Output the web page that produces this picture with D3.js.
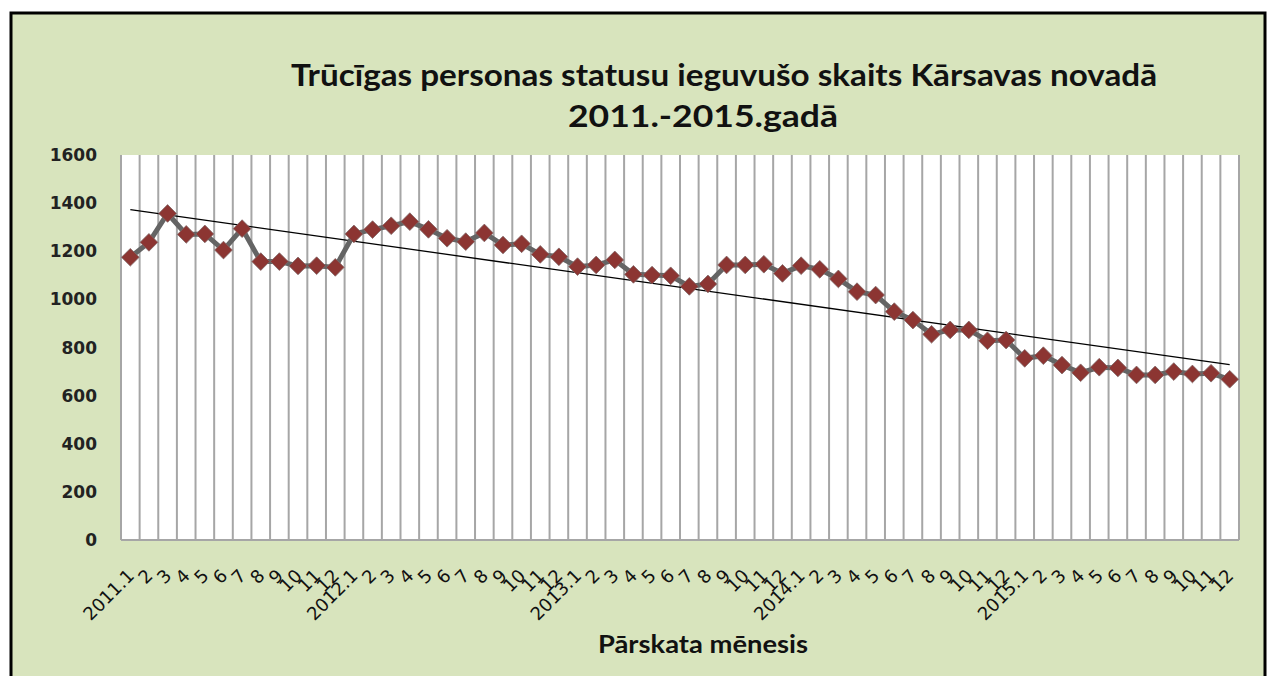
<!DOCTYPE html>
<html>
<head>
<meta charset="utf-8">
<script src="https://cdn.jsdelivr.net/npm/d3@7"></script>
<style>
  body { margin: 0; background: #fff; }
  svg { display: block; }
</style>
</head>
<body>
<div id="chart"></div>
<script>
// months of 2011-2015, the first month of a year carries the year
const years = [2011, 2012, 2013, 2014, 2015]
const monthLabels = ['1','2','3','4','5','6','7','8','9','10','11','12']

// number of people who got the status, month by month
const values2011 = [1175, 1237, 1357, 1270, 1272, 1205, 1294, 1157, 1157, 1139, 1140, 1133]
const values2012 = [1272, 1290, 1306, 1323, 1291, 1254, 1240, 1276, 1226, 1231, 1187, 1177]
const values2013 = [1136, 1143, 1164, 1104, 1101, 1098, 1054, 1064, 1143, 1143, 1146, 1108]
const values2014 = [1140, 1125, 1085, 1032, 1018, 949, 914, 855, 873, 873, 828, 831]
const values2015 = [755, 766, 727, 695, 718, 715, 686, 686, 700, 690, 693, 668]

const yTicks = [0, 200, 400, 600, 800, 1000, 1200, 1400, 1600]

const titleLines = ['Trūcīgas personas statusu ieguvušo skaits Kārsavas novadā', '2011.-2015.gadā']
const xTitle = 'Pārskata mēnesis'

window.onload = function() {
  const w = 1271, h = 676

  let data = []
  const allValues = [values2011, values2012, values2013, values2014, values2015]
  years.forEach(function(year, yi) {
    monthLabels.forEach(function(m, mi) {
      data.push({
        key: year + '.' + m,
        label: mi === 0 ? year + '.' + m : m,
        value: allValues[yi][mi]
      })
    })
  })

  const svg = d3.select('#chart').append('svg')
      .attr('width', w)
      .attr('height', h)

  // chart area background + frame
  svg.append('rect')
      .attr('x', 11).attr('y', 13)
      .attr('width', 1254).attr('height', 680)
      .attr('fill', '#d8e4bd')
      .attr('stroke', '#000')
      .attr('stroke-width', 3)

  const plot = { left: 121, right: 1239, top: 155, bottom: 540 }

  let xScale = d3.scaleBand()
      .domain(data.map(function(d) { return d.key; }))
      .range([plot.left, plot.right])
      .padding(0)

  let yScale = d3.scaleLinear()
      .domain([0, 1600])
      .range([plot.bottom, plot.top])

  const cx = function(d) { return xScale(d.key) + xScale.bandwidth() / 2; }

  svg.append('rect')
      .attr('x', plot.left).attr('y', plot.top)
      .attr('width', plot.right - plot.left).attr('height', plot.bottom - plot.top)
      .attr('fill', '#fff')

  // vertical grid between the months
  const bounds = data.map(function(d) { return xScale(d.key); }).concat([plot.right])
  svg.append('g')
    .selectAll('line')
    .data(bounds)
    .enter().append('line')
      .attr('x1', function(d) { return d; })
      .attr('x2', function(d) { return d; })
      .attr('y1', plot.top)
      .attr('y2', plot.bottom)
      .attr('stroke', '#a6a6a6')
      .attr('stroke-width', 2)

  svg.append('line')
      .attr('x1', plot.left).attr('x2', plot.right)
      .attr('y1', plot.bottom).attr('y2', plot.bottom)
      .attr('stroke', '#a6a6a6')
      .attr('stroke-width', 2)

  // y axis labels
  svg.append('g')
    .selectAll('text')
    .data(yTicks)
    .enter().append('text')
      .attr('x', 97)
      .attr('y', function(d) { return yScale(d); })
      .attr('dy', '0.36em')
      .attr('text-anchor', 'end')
      .attr('font-family', 'DejaVu Sans, sans-serif')
      .attr('font-weight', 'bold')
      .attr('font-size', 17)
      .attr('fill', '#222')
      .text(function(d) { return d; })

  // x labels, rotated
  svg.append('g')
    .selectAll('text')
    .data(data)
    .enter().append('text')
      .attr('transform', function(d) { return 'translate(' + (cx(d) + 5) + ',' + 577 + ') rotate(-45)'; })
      .attr('text-anchor', 'end')
      .attr('font-family', 'DejaVu Sans, sans-serif')
      .attr('font-size', 18)
      .attr('fill', '#111')
      .text(function(d) { return d.label; })

  // trend line (least squares)
  let n = data.length, sx = 0, sy = 0, sxy = 0, sxx = 0
  data.forEach(function(d, i) {
    sx += i; sy += d.value; sxy += i * d.value; sxx += i * i
  })
  const slope = (n * sxy - sx * sy) / (n * sxx - sx * sx)
  const icpt = (sy - slope * sx) / n

  svg.append('path')
      .datum([data[0], data[n - 1]])
      .attr('d', d3.line()
        .x(function(d) { return cx(d); })
        .y(function(d, k) { return yScale(icpt + slope * (k === 0 ? 0 : n - 1)); }))
      .attr('fill', 'none')
      .attr('stroke', '#000')
      .attr('stroke-width', 1.3)

  let line = d3.line()
      .x(cx)
      .y(function(d) { return yScale(d.value); })

  svg.append('path')
      .datum(data)
      .attr('d', line)
      .attr('fill', 'none')
      .attr('stroke', '#646464')
      .attr('stroke-width', 5)

  const sym = d3.symbol().type(d3.symbolDiamond2).size(200)
  svg.append('g')
    .selectAll('path')
    .data(data)
    .enter().append('path')
      .attr('transform', function(d) { return 'translate(' + cx(d) + ',' + yScale(d.value) + ')'; })
      .attr('d', sym)
      .attr('fill', '#8c3532')
      .attr('stroke', '#7f6666')
      .attr('stroke-width', 0.8)

  // titles
  svg.append('g')
    .selectAll('text')
    .data(titleLines)
    .enter().append('text')
      .attr('x', function(d, i) { return i === 0 ? 724 : 703; })
      .attr('y', function(d, i) { return 86 + i * 41; })
      .attr('text-anchor', 'middle')
      .attr('textLength', function(d, i) { return i === 0 ? 866 : 270; })
      .attr('lengthAdjust', 'spacingAndGlyphs')
      .attr('font-family', 'Lato, sans-serif')
      .attr('font-weight', 'bold')
      .attr('font-size', 30)
      .attr('fill', '#111')
      .text(function(d) { return d; })

  svg.append('text')
      .attr('x', 703)
      .attr('y', 653)
      .attr('text-anchor', 'middle')
      .attr('textLength', 210)
      .attr('lengthAdjust', 'spacingAndGlyphs')
      .attr('font-family', 'Lato, sans-serif')
      .attr('font-weight', 'bold')
      .attr('font-size', 24)
      .attr('fill', '#111')
      .text(xTitle)
}
</script>
</body>
</html>
